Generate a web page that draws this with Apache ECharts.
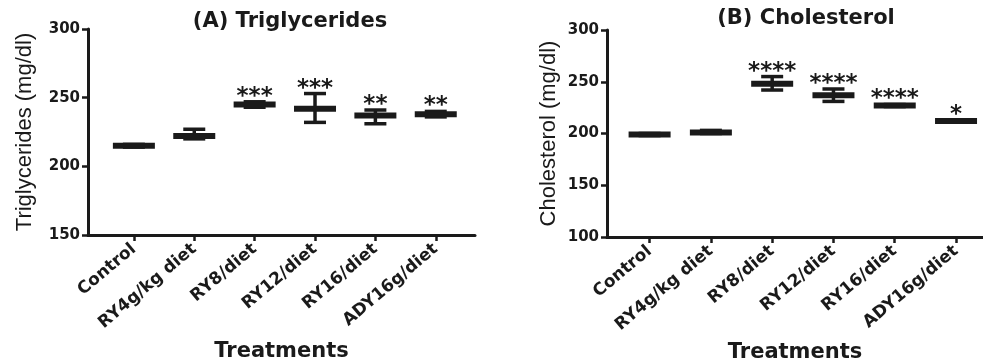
<!DOCTYPE html>
<html>
<head>
<meta charset="utf-8">
<script src="https://cdn.jsdelivr.net/npm/echarts@6/dist/echarts.min.js"></script>
<style>
  html, body { margin: 0; padding: 0; background: #fff; }
  #chart { width: 983px; height: 363px; }
</style>
</head>
<body>
<div id="chart"></div>
<script>
// treatments on the x axis
const categories = ['Control', 'RY4g/kg diet', 'RY8/diet', 'RY12/diet', 'RY16/diet', 'ADY16g/diet'];

// (A) triglycerides, mg/dl
const meanA = [215, 222, 245, 242, 237, 238];
const lowA = [214, 220, 243, 232, 231, 236];
const highA = [216, 227, 247, 253, 241, 240];
const sigA = ['', '', '***', '***', '**', '**'];

// (B) cholesterol, mg/dl
const meanB = [199, 201, 248, 237, 227, 212];
const lowB = [198, 200, 242, 231, 226, 211];
const highB = [200, 203, 255, 243, 228, 213];
const sigB = ['', '', '****', '****', '****', '*'];

const yTicksA = [150, 200, 250, 300];
const yTicksB = [100, 150, 200, 250, 300];

const ink = '#1a1a1a';
const boldFont = 'DejaVu Sans';
const tickIdx = categories.map((c, i) => i);

function makeData(mean, low, high) {
    return categories.map((c, i) => [i, mean[i], low[i], high[i]]);
}

function errRenderer(sig) {
    return function (params, api) {
        const x = api.value(0);
        const pm = api.coord([x, api.value(1)]);
        const pl = api.coord([x, api.value(2)]);
        const ph = api.coord([x, api.value(3)]);
        const barW = 42, barH = 6, capW = 22;
        const ls = { stroke: ink, lineWidth: 3.5 };
        const kids = [
            { type: 'line', shape: { x1: pm[0], y1: pl[1], x2: pm[0], y2: ph[1] }, style: ls },
            { type: 'line', shape: { x1: pm[0] - capW / 2, y1: pl[1], x2: pm[0] + capW / 2, y2: pl[1] }, style: ls },
            { type: 'line', shape: { x1: pm[0] - capW / 2, y1: ph[1], x2: pm[0] + capW / 2, y2: ph[1] }, style: ls },
            { type: 'rect', shape: { x: pm[0] - barW / 2, y: pm[1] - barH / 2, width: barW, height: barH }, style: { fill: ink } }
        ];
        const s = sig[params.dataIndex];
        if (s) {
            kids.push({
                type: 'text',
                style: {
                    text: s, x: pm[0], y: ph[1] - 5,
                    align: 'center', verticalAlign: 'middle',
                    fontFamily: boldFont, fontWeight: 'bold', fontSize: 23, fill: ink
                }
            });
        }
        return { type: 'group', children: kids };
    };
}

function xAxisFor(gridIndex, min, max, gap) {
    return {
        gridIndex, type: 'value', min, max,
        name: 'Treatments', nameLocation: 'middle', nameGap: gap,
        nameTextStyle: { fontFamily: boldFont, fontWeight: 'bold', fontSize: 21, color: ink },
        splitLine: { show: false },
        axisLine: { show: true, onZero: false, lineStyle: { color: ink, width: 3 } },
        axisTick: { show: true, length: 6, lineStyle: { color: ink, width: 2.5 }, customValues: tickIdx },
        axisLabel: {
            customValues: tickIdx, rotate: 40, margin: 12,
            formatter: v => categories[Math.round(v)],
            fontFamily: boldFont, fontWeight: 'bold', fontSize: 17, color: ink
        }
    };
}

function yAxisFor(gridIndex, min, name, gap, ticks) {
    return {
        gridIndex, type: 'value', min, max: 300, interval: 50,
        name, nameLocation: 'middle', nameGap: gap,
        nameTextStyle: { fontFamily: 'Liberation Sans', fontSize: 22, color: ink },
        splitLine: { show: false },
        axisLine: { show: true, onZero: false, lineStyle: { color: ink, width: 3 } },
        axisTick: { show: true, length: 6, lineStyle: { color: ink, width: 2.5 } },
        axisLabel: {
            margin: 8, fontFamily: boldFont, fontWeight: 'bold', fontSize: 15, color: ink,
            formatter: v => (ticks.indexOf(v) >= 0 ? String(v) : '')
        }
    };
}

const chart = echarts.init(document.getElementById('chart'), null, { renderer: 'canvas' });
chart.setOption({
    animation: false,
    backgroundColor: '#fff',
    title: [
        { text: '(A) Triglycerides', left: 285, top: 6, textAlign: 'center',
          textStyle: { fontFamily: boldFont, fontWeight: 'bold', fontSize: 21, color: ink } },
        { text: '(B) Cholesterol', left: 801, top: 3, textAlign: 'center',
          textStyle: { fontFamily: boldFont, fontWeight: 'bold', fontSize: 21, color: ink } }
    ],
    grid: [
        { left: 88, top: 29, width: 387, height: 206, containLabel: false, outerBoundsMode: 'none' },
        { left: 607, top: 30, width: 376, height: 207, containLabel: false, outerBoundsMode: 'none' }
    ],
    xAxis: [
        xAxisFor(0, -0.76, 5.65, 106),
        xAxisFor(1, -0.695, 5.44, 105)
    ],
    yAxis: [
        yAxisFor(0, 150, 'Triglycerides (mg/dl)', 52, yTicksA),
        yAxisFor(1, 100, 'Cholesterol (mg/dl)', 47, yTicksB)
    ],
    series: [
        { type: 'custom', xAxisIndex: 0, yAxisIndex: 0, renderItem: errRenderer(sigA),
          data: makeData(meanA, lowA, highA), clip: false },
        { type: 'custom', xAxisIndex: 1, yAxisIndex: 1, renderItem: errRenderer(sigB),
          data: makeData(meanB, lowB, highB), clip: false }
    ]
});
</script>
</body>
</html>
